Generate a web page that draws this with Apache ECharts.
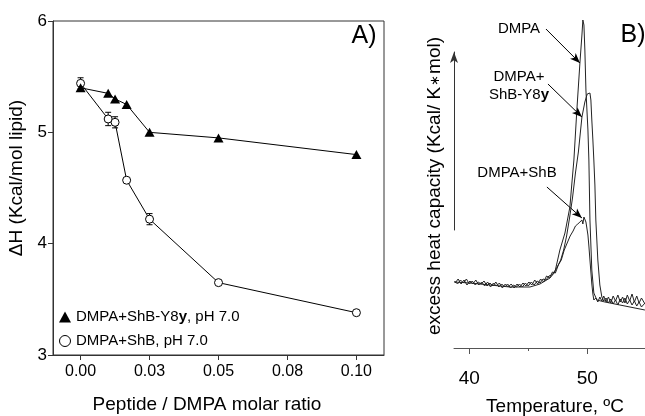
<!DOCTYPE html>
<html><head><meta charset="utf-8">
<script src="https://cdn.jsdelivr.net/npm/echarts@6/dist/echarts.min.js"></script>
<style>html,body{margin:0;padding:0;background:#fff}#c{width:645px;height:416px}</style>
</head><body><div id="c"></div>
<script>
const FONT = "'Liberation Sans', Arial, Helvetica, sans-serif";

// ---------- Panel A data ----------
const ratio = [0, 0.01, 0.0125, 0.0167, 0.025, 0.05, 0.1];
const dhY8y = [5.40, 5.35, 5.30, 5.25, 5.00, 4.95, 4.80];
const dhShB = [5.44, 5.12, 5.09, 4.57, 4.22, 3.65, 3.38];
const errRatio = [0, 0.01, 0.0125, 0.025];
const errShBMid = [5.44, 5.12, 5.09, 4.22];
const errShB = [0.05, 0.06, 0.05, 0.05];
const xTickValuesA = [0, 0.025, 0.05, 0.075, 0.1];
const xTickLabelsA = ['0.00', '0.03', '0.05', '0.08', '0.10'];
const nameY8y = 'DMPA+ShB-Y8y, pH 7.0';
const nameShB = 'DMPA+ShB, pH 7.0';

// ---------- Panel B data (arbitrary Cp units) ----------
const tDMPA = [38.70,40.06,41.75,43.45,45.14,45.99,46.84,47.26,47.68,48.11,48.53,48.70,48.87,49.12,49.38,49.55,49.63,49.72,49.80,49.89,50.06,50.14,50.23,50.39,50.56,50.82,51.50,52.77,54.89];
const cpDMPA = [66,65,63,61,61,64,70,76,98,115,141,165,188,238,285,313,328,323,298,258,218,188,128,78,55,48,46,43,38];

const tY8y = [38.75,39.0,39.25,39.5,39.75,40.0,40.25,40.5,40.75,41.0,41.25,41.5,41.75,42.0,42.25,42.5,42.75,43.0,43.25,43.5,43.75,44.0,44.25,44.5,44.75,45.0,45.25,45.5,45.75,46.0,46.25,46.5,46.75,47.0,47.25,47.5,47.75,48.0,48.25,48.5,48.75,49.0,49.25,49.55,49.8,50.0,50.14,50.23,50.31,50.39,50.48,50.56,50.65,50.73,50.9,51.07,51.24,51.4,51.6,51.8,52.0,52.2,52.4,52.6,52.8,53.0,53.2,53.4,53.6,53.8,54.0,54.2,54.4,54.6,54.9];
const cpY8y = [67,64,68,65,69,64,67,63,66,64,67,62,65,62,66,61,64,61,64,60,63,61,64,61,65,62,66,63,67,65,69,68,72,73,77,82,88,98,112,130,150,175,196,231,246,254,256,255,248,228,208,188,163,128,88,63,51,47,50,45,49,44,48,43,49,45,50,44,48,43,47,42,46,41,45];

const tShB = [38.8,39.05,39.3,39.55,39.8,40.05,40.3,40.55,40.8,41.05,41.3,41.55,41.8,42.05,42.3,42.55,42.8,43.05,43.3,43.55,43.8,44.05,44.3,44.55,44.8,45.05,45.3,45.55,45.8,46.05,46.3,46.55,46.8,47.05,47.3,47.55,47.8,48.05,48.3,48.55,48.8,49.0,49.2,49.38,49.5,49.55,49.63,49.72,49.8,49.89,49.97,50.06,50.14,50.23,50.31,50.39,50.48,50.56,50.73,50.9,51.07,51.24,51.4,51.6,51.8,52.0,52.2,52.4,52.6,52.8,53.0,53.2,53.4,53.6,53.8,54.0,54.2,54.4,54.6,54.9];
const cpShB = [65,69,64,68,63,67,64,68,63,66,62,66,61,65,62,65,60,64,61,64,60,64,61,65,62,66,63,68,64,69,66,72,70,76,75,83,88,98,105,112,117,122,124,126,125,128,124,131,129,126,120,113,102,88,76,64,54,48,50,46,51,47,52,46,51,45,52,47,53,46,51,45,53,47,54,46,52,45,50,44];

const xTicksB = [40, 50];
const xMinorTicksB = [45];

const zip = (a, b) => a.map((v, i) => [v, b[i]]);

const chart = echarts.init(document.getElementById('c'), null, {renderer: 'canvas'});

const txt = (extra) => Object.assign({fontFamily: FONT, fill: '#000'}, extra);

chart.setOption({
  animation: false,
  backgroundColor: '#fff',
  textStyle: {fontFamily: FONT, color: '#000'},
  grid: [
    {left: 53, top: 21, width: 331, height: 334, show: true, borderColor: '#333', borderWidth: 1, backgroundColor: 'transparent'},
    {left: 454, top: 20, right: 0, height: 328},
    {left: 454, top: 52, width: 10, height: 178},
    {left: 454, top: 20, right: 0, height: 328}
  ],
  xAxis: [
    {gridIndex: 0, type: 'value', min: -0.01, max: 0.11,
      axisLine: {show: true, onZero: false, lineStyle: {color: '#333', width: 1}},
      axisTick: {show: true, inside: false, length: 5, customValues: xTickValuesA, lineStyle: {color: '#333'}},
      axisLabel: {customValues: xTickValuesA, fontSize: 16, color: '#000', margin: 9, fontFamily: FONT,
        formatter: v => { const i = xTickValuesA.findIndex(t => Math.abs(t - v) < 1e-9); return i >= 0 ? xTickLabelsA[i] : ''; }},
      splitLine: {show: false}},
    {gridIndex: 1, type: 'value', min: 38.7, max: 54.9,
      axisLine: {show: true, onZero: false, lineStyle: {color: '#555', width: 1}},
      axisTick: {show: true, inside: false, length: 6, customValues: xTicksB, lineStyle: {color: '#555'}},
      axisLabel: {customValues: xTicksB, fontSize: 19, color: '#000', margin: 21, fontFamily: FONT},
      splitLine: {show: false}},
    {gridIndex: 2, type: 'value', show: false},
    {gridIndex: 3, type: 'value', min: 38.7, max: 54.9,
      axisLine: {show: false, onZero: false},
      axisTick: {show: true, inside: false, length: 3, customValues: xMinorTicksB, lineStyle: {color: '#555'}},
      axisLabel: {show: false}, splitLine: {show: false}}
  ],
  yAxis: [
    {gridIndex: 0, type: 'value', min: 3, max: 6, interval: 1,
      axisLine: {show: true, onZero: false, lineStyle: {color: '#333', width: 1}},
      axisTick: {show: true, inside: false, length: 5, lineStyle: {color: '#333'}},
      axisLabel: {fontSize: 17, color: '#000', margin: 6, fontFamily: FONT},
      splitLine: {show: false}},
    {gridIndex: 1, type: 'value', min: 0, max: 328, show: false},
    {gridIndex: 2, type: 'value', min: 0, max: 1,
      axisLine: {show: true, onZero: false, symbol: ['none', 'arrow'], symbolSize: [6, 11], lineStyle: {color: '#333', width: 1}},
      axisTick: {show: false}, axisLabel: {show: false}, splitLine: {show: false}},
    {gridIndex: 3, type: 'value', min: 0, max: 328, show: false}
  ],
  legend: {
    orient: 'vertical', left: 59, top: 308, padding: 0, itemGap: 6,
    itemWidth: 12, itemHeight: 11,
    textStyle: {fontSize: 15, color: '#000', fontFamily: FONT, lineHeight: 18,
      rich: {b: {fontWeight: 'bold', fontSize: 15, fontFamily: FONT, color: '#000'}}},
    formatter: n => n.replace('Y8y', 'Y8{b|y}'),
    data: [
      {name: nameY8y, icon: 'triangle', itemStyle: {color: '#000', borderWidth: 0}},
      {name: nameShB, icon: 'circle', itemStyle: {color: '#fff', borderColor: '#000', borderWidth: 1}}
    ]
  },
  graphic: [
    {type: 'text', x: 364, y: 36, style: txt({text: 'A)', fontSize: 25, align: 'center', verticalAlign: 'middle'})},
    {type: 'text', x: 633, y: 35, style: txt({text: 'B)', fontSize: 25, align: 'center', verticalAlign: 'middle'})},
    {type: 'text', x: 17, y: 178, rotation: Math.PI / 2, style: txt({text: 'ΔH (Kcal/mol lipid)', fontSize: 19, align: 'center', verticalAlign: 'middle'})},
    {type: 'text', x: 207, y: 405, style: txt({text: 'Peptide / DMPA molar ratio', fontSize: 19, align: 'center', verticalAlign: 'middle'})},
    {type: 'text', x: 435, y: 186, rotation: Math.PI / 2, style: txt({text: 'excess heat capacity (Kcal/ K{s|∗}mol)', fontSize: 19, align: 'center', verticalAlign: 'middle',
      rich: {s: {fontSize: 13, fontFamily: FONT, fill: '#000', padding: [0, 1, 0, 1]}}})},
    {type: 'text', x: 555, y: 407, style: txt({text: 'Temperature, ºC', fontSize: 19, align: 'center', verticalAlign: 'middle'})},
    {type: 'text', x: 519, y: 29, style: txt({text: 'DMPA', fontSize: 15, align: 'center', verticalAlign: 'middle'})},
    {type: 'text', x: 519, y: 86, style: txt({text: 'DMPA+\nShB-Y8{b|y}', fontSize: 15, lineHeight: 18, align: 'center', verticalAlign: 'middle',
      rich: {b: {fontWeight: 'bold', fontSize: 15, fontFamily: FONT, fill: '#000'}}})},
    {type: 'text', x: 517, y: 173, style: txt({text: 'DMPA+ShB', fontSize: 15, align: 'center', verticalAlign: 'middle'})}
  ],
  series: [
    {type: 'custom', name: 'errShB', xAxisIndex: 0, yAxisIndex: 0, z: 2, silent: true,
      data: errRatio.map((x, i) => [x, errShBMid[i] - errShB[i], errShBMid[i] + errShB[i]]),
      renderItem: (params, api) => {
        const x = api.value(0);
        const p1 = api.coord([x, api.value(1)]);
        const p2 = api.coord([x, api.value(2)]);
        const w = 3;
        const st = {stroke: '#000', lineWidth: 1};
        return {type: 'group', children: [
          {type: 'line', shape: {x1: p1[0], y1: p1[1], x2: p2[0], y2: p2[1]}, style: st},
          {type: 'line', shape: {x1: p1[0] - w, y1: p1[1], x2: p1[0] + w, y2: p1[1]}, style: st},
          {type: 'line', shape: {x1: p2[0] - w, y1: p2[1], x2: p2[0] + w, y2: p2[1]}, style: st}
        ]};
      }},
    {type: 'line', name: nameShB, xAxisIndex: 0, yAxisIndex: 0, z: 3,
      data: zip(ratio, dhShB), symbol: 'circle', symbolSize: 8, showSymbol: true,
      itemStyle: {color: '#fff', borderColor: '#000', borderWidth: 1},
      lineStyle: {color: '#000', width: 1}},
    {type: 'line', name: nameY8y, xAxisIndex: 0, yAxisIndex: 0, z: 4,
      data: zip(ratio, dhY8y), symbol: 'triangle', symbolSize: [10, 9], showSymbol: true,
      itemStyle: {color: '#000'},
      lineStyle: {color: '#000', width: 1}},
    {type: 'line', name: 'DMPA', xAxisIndex: 1, yAxisIndex: 1, symbol: 'none', z: 3,
      data: zip(tDMPA, cpDMPA), lineStyle: {color: '#222', width: 1},
      markLine: {silent: true, symbol: ['none', 'arrow'], symbolSize: [6, 10],
        label: {show: false}, lineStyle: {color: '#000', width: 1, type: 'solid'},
        emphasis: {disabled: true},
        data: [
          [{coord: [46.50, 319]}, {coord: [49.38, 285]}],
          [{coord: [46.67, 264]}, {coord: [49.55, 231]}],
          [{coord: [46.58, 161]}, {coord: [49.55, 130]}]
        ]}},
    {type: 'line', name: 'DMPA+ShB-Y8y', xAxisIndex: 1, yAxisIndex: 1, symbol: 'none', z: 3,
      data: zip(tY8y, cpY8y), lineStyle: {color: '#222', width: 1}},
    {type: 'line', name: 'DMPA+ShB', xAxisIndex: 1, yAxisIndex: 1, symbol: 'none', z: 3,
      data: zip(tShB, cpShB), lineStyle: {color: '#222', width: 1}}
  ]
});
</script>
</body></html>
